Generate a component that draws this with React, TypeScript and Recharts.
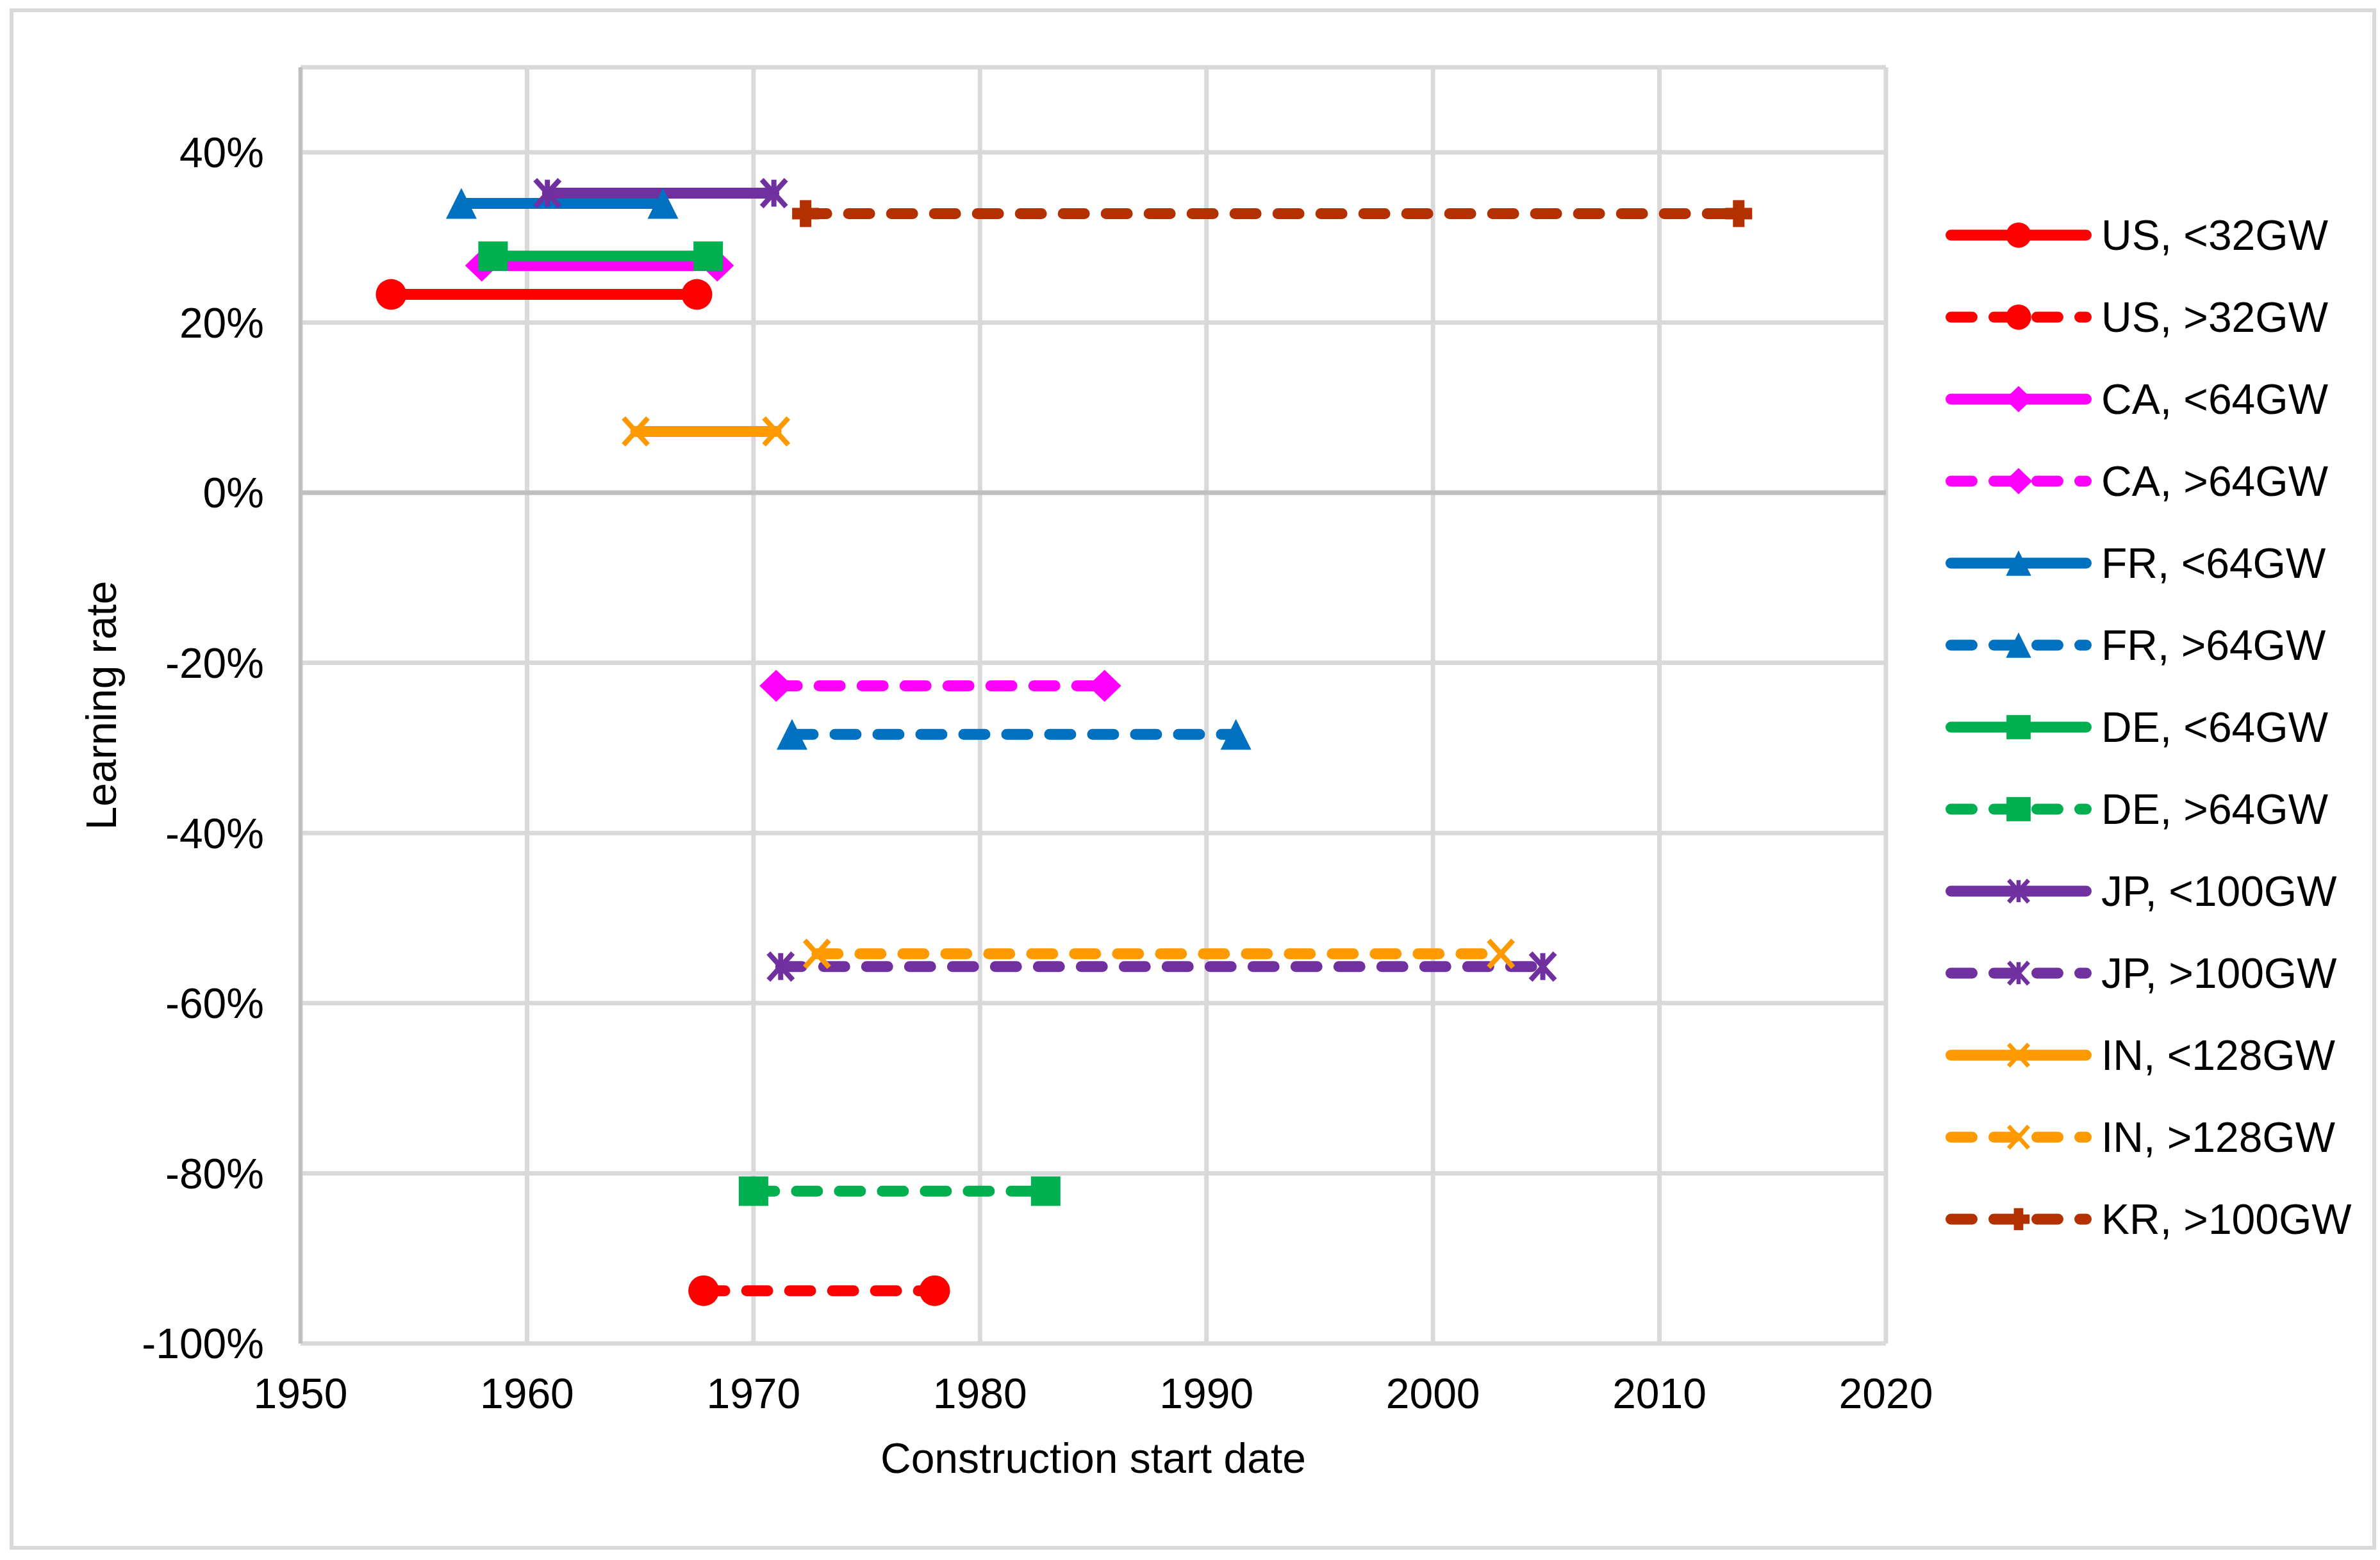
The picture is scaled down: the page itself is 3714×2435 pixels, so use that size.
import {
  LineChart,
  Line,
  XAxis,
  YAxis,
  CartesianGrid,
  ReferenceLine,
  Legend,
} from "recharts";

const seriesNames = [
  "US, <32GW",
  "US, >32GW",
  "CA, <64GW",
  "CA, >64GW",
  "FR, <64GW",
  "FR, >64GW",
  "DE, <64GW",
  "DE, >64GW",
  "JP, <100GW",
  "JP, >100GW",
  "IN, <128GW",
  "IN, >128GW",
  "KR, >100GW",
];
const startYears = [
  1954.0, 1967.8, 1958.0, 1971.0, 1957.1, 1971.7, 1958.5, 1970.0, 1960.9,
  1971.2, 1964.8, 1972.8, 1972.3,
];
const endYears = [
  1967.5, 1978.0, 1968.4, 1985.5, 1966.0, 1991.3, 1968.0, 1982.9, 1970.9,
  2004.85, 1971.0, 2003.0, 2013.5,
];
const learningRates = [
  0.233, -0.938, 0.267, -0.227, 0.34, -0.284, 0.278, -0.821, 0.352, -0.557,
  0.072, -0.542, 0.328,
];
const xTicks = [1950, 1960, 1970, 1980, 1990, 2000, 2010, 2020];
const yTicks = [-1, -0.8, -0.6, -0.4, -0.2, 0, 0.2, 0.4];

// styles per series
const colors = [
  "#FF0000", "#FF0000", "#FF00FF", "#FF00FF", "#0070C0", "#0070C0",
  "#00B050", "#00B050", "#7030A0", "#7030A0", "#FF9900", "#FF9900", "#B33000",
];
const dashed = [
  false, true, false, true, false, true, false, true, false, true, false, true, true,
];
const markers = [
  "circle", "circle", "diamond", "diamond", "triangle", "triangle",
  "square", "square", "star", "star", "x", "x", "plus",
];

const FONT = "'Liberation Sans', Arial, sans-serif";
const W = 3714;
const H = 2435;
const LINE_W = 17;
const DASH = "33 34";

function Marker({ shape, cx, cy, color, s = 1 }: any) {
  if (cx == null || cy == null) return null;
  switch (shape) {
    case "circle":
      return <circle cx={cx} cy={cy} r={24 * s} fill={color} />;
    case "diamond":
      return (
        <polygon
          points={`${cx},${cy - 25 * s} ${cx + 26 * s},${cy} ${cx},${cy + 25 * s} ${cx - 26 * s},${cy}`}
          fill={color}
        />
      );
    case "triangle":
      return (
        <polygon
          points={`${cx},${cy - 24 * s} ${cx + 24 * s},${cy + 24 * s} ${cx - 24 * s},${cy + 24 * s}`}
          fill={color}
        />
      );
    case "square":
      return (
        <rect x={cx - 23 * s} y={cy - 23 * s} width={46 * s} height={46 * s} fill={color} />
      );
    case "star":
    case "x":
      return (
        <g stroke={color} strokeWidth={8 * s}>
          <line x1={cx - 19 * s} y1={cy - 21 * s} x2={cx + 19 * s} y2={cy + 21 * s} />
          <line x1={cx + 19 * s} y1={cy - 21 * s} x2={cx - 19 * s} y2={cy + 21 * s} />
          {shape === "star" && (
            <line x1={cx} y1={cy - 21 * s} x2={cx} y2={cy + 21 * s} />
          )}
        </g>
      );
    case "plus":
      return (
        <g fill={color}>
          <rect x={cx - 9 * s} y={cy - 21 * s} width={18 * s} height={42 * s} />
          <rect x={cx - 21 * s} y={cy - 9 * s} width={42 * s} height={18 * s} />
        </g>
      );
    default:
      return null;
  }
}

function LegendBox() {
  return (
    <div style={{ fontFamily: FONT, fontSize: 66, color: "#000" }}>
      {seriesNames.map((name, i) => (
        <div
          key={name}
          style={{ display: "flex", alignItems: "center", height: 128 }}
        >
          <svg width={230} height={60} style={{ display: "block" }}>
            <line
              x1={8.5}
              x2={219.5}
              y1={30}
              y2={30}
              stroke={colors[i]}
              strokeWidth={LINE_W}
              strokeLinecap="round"
              strokeDasharray={dashed[i] ? DASH : undefined}
            />
            <Marker shape={markers[i]} cx={114} cy={30} color={colors[i]} s={0.82} />
          </svg>
          <span style={{ marginLeft: 13, whiteSpace: "nowrap", lineHeight: 1 }}>
            {name}
          </span>
        </div>
      ))}
    </div>
  );
}

const XTitle = (props: any) => {
  const vb = props.viewBox || { x: 469, y: 2097, width: 2474, height: 338 };
  return (
    <text
      x={vb.x + vb.width / 2}
      y={vb.y + 202}
      textAnchor="middle"
      fontSize={66}
      fontFamily={FONT}
      fill="#000"
    >
      Construction start date
    </text>
  );
};

const YTitle = (props: any) => {
  const vb = props.viewBox || { x: 0, y: 105, width: 469, height: 1992 };
  const x = vb.x + 181;
  const y = vb.y + vb.height / 2;
  return (
    <text
      x={x}
      y={y}
      transform={`rotate(-90 ${x} ${y})`}
      textAnchor="middle"
      fontSize={66}
      fontFamily={FONT}
      fill="#000"
    >
      Learning rate
    </text>
  );
};

export default function App() {
  return (
    <div
      style={{
        position: "absolute",
        left: 0,
        top: 0,
        width: W,
        height: H,
        background: "#fff",
        fontFamily: FONT,
      }}
    >
      <div
        style={{
          position: "absolute",
          left: 15,
          top: 13,
          width: 3693,
          height: 2406,
          border: "6px solid #d9d9d9",
          boxSizing: "border-box",
        }}
      />
      <div style={{ position: "absolute", left: 0, top: 0 }}>
        <LineChart
          width={W}
          height={H}
          margin={{ top: 105, right: 771, bottom: 0, left: 0 }}
        >
          <CartesianGrid stroke="#d9d9d9" strokeWidth={7} />
          <XAxis
            type="number"
            dataKey="x"
            domain={[1950, 2020]}
            ticks={xTicks}
            interval={0}
            allowDataOverflow
            height={338}
            axisLine={false}
            tickLine={false}
            tickSize={0}
            tickMargin={54}
            tick={{ fill: "#000", fontSize: 66, fontFamily: FONT }}
            label={XTitle}
          />
          <YAxis
            type="number"
            domain={[-1, 0.5]}
            ticks={yTicks}
            interval={0}
            allowDataOverflow
            width={469}
            axisLine={{ stroke: "#bfbfbf", strokeWidth: 6 }}
            tickLine={false}
            tickSize={0}
            tickMargin={57}
            tick={{ fill: "#000", fontSize: 66, fontFamily: FONT }}
            tickFormatter={(v: number) => `${Math.round(v * 100)}%`}
            label={YTitle}
          />
          <ReferenceLine y={0} stroke="#bfbfbf" strokeWidth={7} />
          {seriesNames.map((name, i) => (
            <Line
              key={name}
              name={name}
              data={[
                { x: startYears[i], y: learningRates[i] },
                { x: endYears[i], y: learningRates[i] },
              ]}
              dataKey="y"
              type="linear"
              stroke={colors[i]}
              strokeWidth={LINE_W}
              strokeLinecap="round"
              strokeDasharray={dashed[i] ? DASH : undefined}
              dot={(p: any) => (
                <Marker
                  key={`${name}-${p.index}`}
                  shape={markers[i]}
                  cx={p.cx}
                  cy={p.cy}
                  color={colors[i]}
                />
              )}
              activeDot={false}
              isAnimationActive={false}
            />
          ))}
          <Legend
            layout="vertical"
            align="center"
            verticalAlign="middle"
            wrapperStyle={{ left: 3036, top: 303, width: 660 }}
            content={() => <LegendBox />}
          />
        </LineChart>
      </div>
    </div>
  );
}
